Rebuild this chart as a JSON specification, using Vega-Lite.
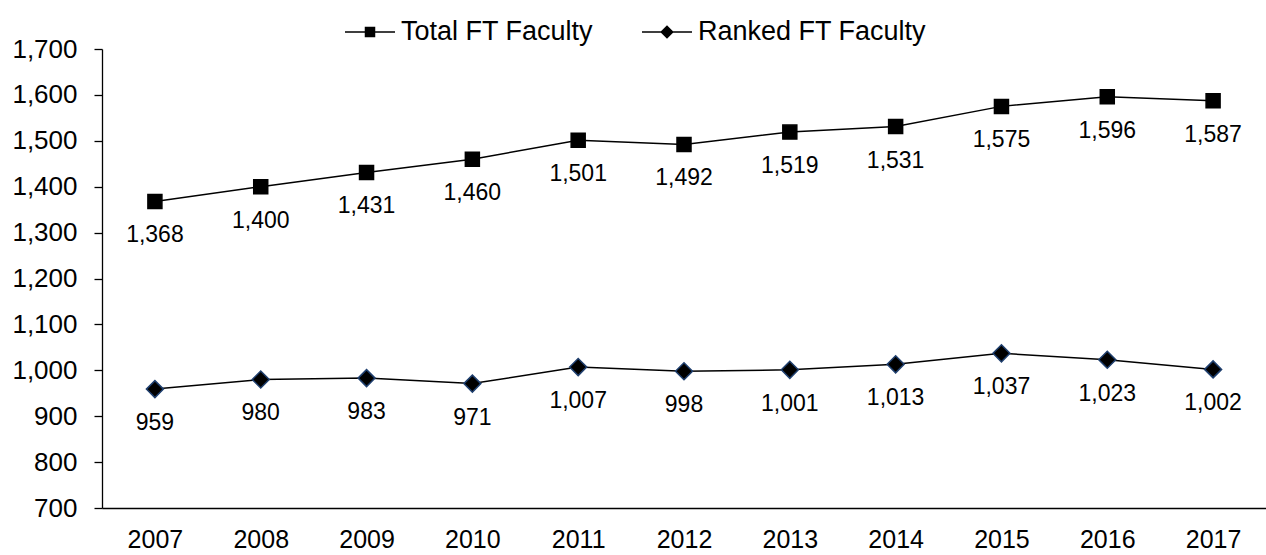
{
  "$schema": "https://vega.github.io/schema/vega-lite/v6.json",
  "width": 1164,
  "height": 459,
  "autosize": {"type": "none"},
  "padding": {"left": 102, "top": 49, "right": 0, "bottom": 47},
  "background": "white",
  "config": {
    "view": {"stroke": null},
    "font": "Liberation Sans",
    "axis": {"labelFont": "Liberation Sans", "labelColor": "black", "domainColor": "black", "tickColor": "black", "grid": false, "title": null, "domainWidth": 1.3, "tickWidth": 1.3}
  },
  "data": {
    "values": [
      {"year": "2007", "series": "Total FT Faculty", "value": 1368},
      {"year": "2008", "series": "Total FT Faculty", "value": 1400},
      {"year": "2009", "series": "Total FT Faculty", "value": 1431},
      {"year": "2010", "series": "Total FT Faculty", "value": 1460},
      {"year": "2011", "series": "Total FT Faculty", "value": 1501},
      {"year": "2012", "series": "Total FT Faculty", "value": 1492},
      {"year": "2013", "series": "Total FT Faculty", "value": 1519},
      {"year": "2014", "series": "Total FT Faculty", "value": 1531},
      {"year": "2015", "series": "Total FT Faculty", "value": 1575},
      {"year": "2016", "series": "Total FT Faculty", "value": 1596},
      {"year": "2017", "series": "Total FT Faculty", "value": 1587},
      {"year": "2007", "series": "Ranked FT Faculty", "value": 959},
      {"year": "2008", "series": "Ranked FT Faculty", "value": 980},
      {"year": "2009", "series": "Ranked FT Faculty", "value": 983},
      {"year": "2010", "series": "Ranked FT Faculty", "value": 971},
      {"year": "2011", "series": "Ranked FT Faculty", "value": 1007},
      {"year": "2012", "series": "Ranked FT Faculty", "value": 998},
      {"year": "2013", "series": "Ranked FT Faculty", "value": 1001},
      {"year": "2014", "series": "Ranked FT Faculty", "value": 1013},
      {"year": "2015", "series": "Ranked FT Faculty", "value": 1037},
      {"year": "2016", "series": "Ranked FT Faculty", "value": 1023},
      {"year": "2017", "series": "Ranked FT Faculty", "value": 1002}
    ]
  },
  "encoding": {
    "x": {
      "field": "year", "type": "ordinal",
      "scale": {"type": "point", "padding": 0.5},
      "axis": {"labelAngle": 0, "labelFontSize": 25, "ticks": false, "tickSize": 0, "labelPadding": 19}
    },
    "y": {
      "field": "value", "type": "quantitative",
      "scale": {"domain": [700, 1700], "nice": false, "zero": false},
      "axis": {"values": [700, 800, 900, 1000, 1100, 1200, 1300, 1400, 1500, 1600, 1700], "format": ",.0f", "labelFontSize": 26, "tickSize": 8, "labelPadding": 17}
    }
  },
  "layer": [
    {
      "mark": {"type": "line", "color": "black", "strokeWidth": 1.5},
      "encoding": {"detail": {"field": "series"}}
    },
    {
      "mark": {"type": "point", "filled": true, "fill": "black", "opacity": 1, "strokeWidth": 1.5},
      "encoding": {
        "shape": {"field": "series", "type": "nominal", "scale": {"domain": ["Total FT Faculty", "Ranked FT Faculty"], "range": ["square", "diamond"]}, "legend": null},
        "size": {"field": "series", "type": "nominal", "scale": {"domain": ["Total FT Faculty", "Ranked FT Faculty"], "range": [196, 289]}, "legend": null},
        "stroke": {"field": "series", "type": "nominal", "scale": {"domain": ["Total FT Faculty", "Ranked FT Faculty"], "range": ["black", "#1F3F6E"]}, "legend": null}
      }
    },
    {
      "mark": {"type": "text", "dy": 34, "fontSize": 23, "color": "black", "font": "Liberation Sans"},
      "encoding": {"text": {"field": "value", "type": "quantitative", "format": ",.0f"}}
    },
    {
      "transform": [{"filter": "false"}],
      "mark": {"type": "point", "filled": true, "color": "black", "opacity": 1},
      "encoding": {
        "shape": {
          "field": "series", "type": "nominal",
          "scale": {"domain": ["Total FT Faculty", "Ranked FT Faculty"], "range": ["M-1,-0.03H1V0.03H-1Z M-0.21,-0.21H0.21V0.21H-0.21Z", "M-1,-0.03H1V0.03H-1Z M0,-0.27L0.27,0L0,0.27L-0.27,0Z"]},
          "legend": {"title": null, "orient": "none", "direction": "horizontal", "legendX": 243, "legendY": -42, "padding": 0, "symbolSize": 2500, "symbolFillColor": "black", "symbolStrokeWidth": 0, "symbolOpacity": 1, "labelFontSize": 27, "labelFont": "Liberation Sans", "labelColor": "black", "labelOffset": 6, "columnPadding": 48, "labelLimit": 400}
        }
      }
    }
  ],
  "resolve": {"scale": {"shape": "independent", "size": "independent", "stroke": "independent"}}
}
